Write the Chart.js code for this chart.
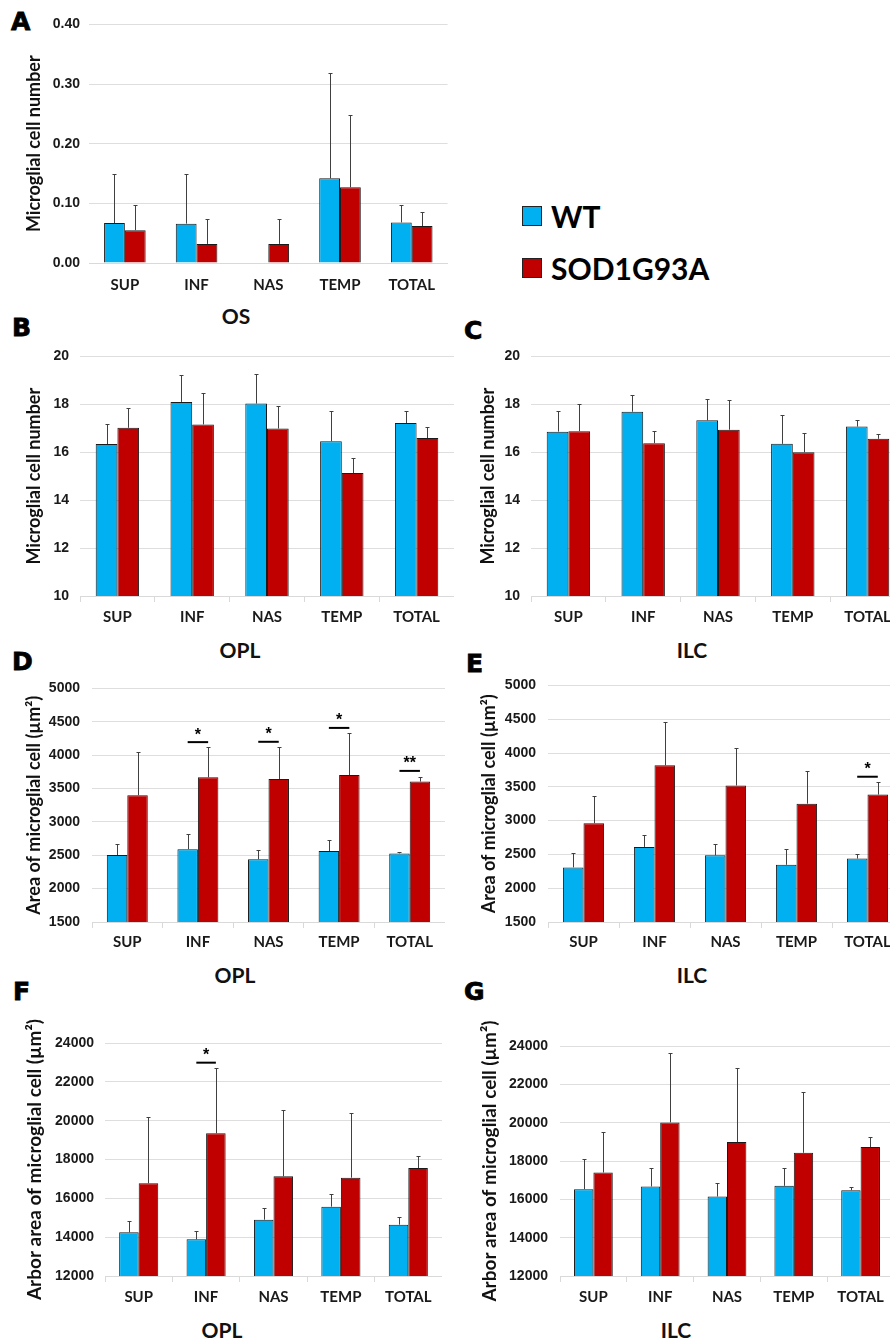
<!DOCTYPE html>
<html>
<head>
<meta charset="utf-8">
<script src="https://cdn.jsdelivr.net/npm/chart.js@4.4.1/dist/chart.umd.min.js"></script>
<style>
  body { margin: 0; width: 890px; height: 1339px; overflow: hidden; position: relative; background: #fff; }
  canvas { position: absolute; }
  .letter { position: absolute; font: bold 25px "DejaVu Sans"; line-height: 24px; color: #000; -webkit-text-stroke: 0.8px #000; }
  .xtitle { position: absolute; font: bold 21px Lato; line-height: 20px; color: #111; transform: translate(-50%, -50%); white-space: nowrap; }
  .key { position: absolute; left: 522px; width: 18px; height: 18px; border: 1.5px solid #222; }
  .keytxt { position: absolute; left: 551px; font: bold 30px Lato; line-height: 30px; color: #000; transform: translateY(-50%); }
</style>
</head>
<body>
<div class="letter" style="left:11px;top:10px">A</div>
<div class="letter" style="left:12px;top:316px">B</div>
<div class="letter" style="left:464px;top:319px">C</div>
<div class="letter" style="left:12px;top:650px">D</div>
<div class="letter" style="left:466px;top:652px">E</div>
<div class="letter" style="left:13px;top:980px">F</div>
<div class="letter" style="left:464px;top:980px">G</div>

<div class="xtitle" style="left:236px;top:316px">OS</div>
<div class="xtitle" style="left:240px;top:650px">OPL</div>
<div class="xtitle" style="left:692px;top:650px">ILC</div>
<div class="xtitle" style="left:235px;top:975px">OPL</div>
<div class="xtitle" style="left:692px;top:975px">ILC</div>
<div class="xtitle" style="left:222px;top:1330px">OPL</div>
<div class="xtitle" style="left:676px;top:1330px">ILC</div>

<div class="key" style="top:206px;background:#00b0f0"></div>
<div class="keytxt" style="top:216px">WT</div>
<div class="key" style="top:258px;background:#c00000"></div>
<div class="keytxt" style="top:268px">SOD1G93A</div>

<script>
// categorias (regiões da retina)
const categories = ['SUP', 'INF', 'NAS', 'TEMP', 'TOTAL'];
const seriesNames = ['WT', 'SOD1G93A'];

// A - número de células, OS
const osNumWT = [0.067, 0.066, 0, 0.142, 0.068];
const osNumWTErr = [0.082, 0.083, 0, 0.176, 0.030];
const osNumSOD = [0.055, 0.032, 0.032, 0.127, 0.062];
const osNumSODErr = [0.043, 0.042, 0.042, 0.121, 0.023];

// B - número de células, OPL
const oplNumWT = [16.34, 18.10, 18.03, 16.46, 17.22];
const oplNumWTErr = [0.82, 1.12, 1.25, 1.28, 0.49];
const oplNumSOD = [17.02, 17.16, 16.99, 15.13, 16.59];
const oplNumSODErr = [0.83, 1.33, 0.93, 0.63, 0.46];

// C - número de células, ILC
const ilcNumWT = [16.86, 17.69, 17.33, 16.35, 17.07];
const ilcNumWTErr = [0.88, 0.69, 0.91, 1.20, 0.29];
const ilcNumSOD = [16.88, 16.38, 16.94, 16.00, 16.56];
const ilcNumSODErr = [1.15, 0.52, 1.22, 0.79, 0.22];

// D - área da célula, OPL
const oplAreaWT = [2503, 2591, 2440, 2562, 2528];
const oplAreaWTErr = [170, 223, 146, 160, 28];
const oplAreaSOD = [3400, 3667, 3643, 3701, 3604];
const oplAreaSODErr = [640, 460, 484, 630, 72];
const oplAreaSig = [null, 4195, 4200, 4408, 3764];
const oplAreaStars = ['', '*', '*', '*', '**'];

// E - área da célula, ILC
const ilcAreaWT = [2308, 2611, 2486, 2346, 2438];
const ilcAreaWTErr = [216, 177, 173, 231, 67];
const ilcAreaSOD = [2962, 3817, 3519, 3250, 3385];
const ilcAreaSODErr = [399, 635, 553, 486, 182];
const ilcAreaSig = [null, null, null, null, 3649];
const ilcAreaStars = ['', '', '', '', '*'];

// F - área da arborização, OPL
const oplArborWT = [14249, 13888, 14901, 15571, 14644];
const oplArborWTErr = [601, 412, 584, 652, 395];
const oplArborSOD = [16773, 19348, 17133, 17064, 17562];
const oplArborSODErr = [3399, 3347, 3434, 3348, 618];
const oplArborSig = [null, 22987, null, null, null];
const oplArborStars = ['', '*', '', '', ''];

// G - área da arborização, ILC
const ilcArborWT = [16530, 16669, 16146, 16704, 16477];
const ilcArborWTErr = [1585, 958, 697, 923, 157];
const ilcArborSOD = [17401, 20014, 18986, 18429, 18725];
const ilcArborSODErr = [2108, 3606, 3850, 3188, 522];

// eixos y: [min, max, passo]
const numTicksOS = [0, 0.4, 0.1];
const numTicks = [10, 20, 2];
const areaTicks = [1500, 5000, 500];
const arborTicks = [12000, 24000, 2000];

const titleNum = 'Microglial cell number';
const titleArea = 'Area of microglial cell (\u00b5m\u00b2)';
const titleArbor = 'Arbor area of microglial cell (\u00b5m\u00b2)';

// barras de erro + marcas de significância
const errorBars = {
  id: 'errorBars',
  afterDatasetsDraw(chart, args, opts) {
    const ctx = chart.ctx;
    const y = chart.scales.y;
    ctx.save();
    ctx.strokeStyle = '#404040';
    ctx.lineWidth = 1;
    chart.data.datasets.forEach((ds, di) => {
      chart.getDatasetMeta(di).data.forEach((bar, i) => {
        const e = ds.errors[i];
        if (!e) return;
        const top = Math.round(y.getPixelForValue(ds.data[i] + e)) + 0.5;
        const x = Math.round(bar.x) + 0.5;
        ctx.beginPath();
        ctx.moveTo(x, bar.y);
        ctx.lineTo(x, top);
        ctx.moveTo(x - 2, top);
        ctx.lineTo(x + 2, top);
        ctx.stroke();
      });
    });
    const sig = opts.sig || [];
    const m0 = chart.getDatasetMeta(0).data, m1 = chart.getDatasetMeta(1).data;
    sig.forEach((v, i) => {
      if (v == null) return;
      const yy = y.getPixelForValue(v);
      ctx.strokeStyle = '#000';
      ctx.lineWidth = 2;
      ctx.beginPath();
      ctx.moveTo(m0[i].x, yy);
      ctx.lineTo(m1[i].x, yy);
      ctx.stroke();
      ctx.fillStyle = '#000';
      ctx.font = 'bold 16px "Liberation Sans"';
      ctx.textAlign = 'center';
      ctx.textBaseline = 'middle';
      ctx.fillText(opts.stars[i], (m0[i].x + m1[i].x) / 2, yy - 7);
    });
    ctx.restore();
  }
};

function panel(box, wt, wtErr, sod, sodErr, ticks, yTitle, titleSize, sig, stars) {
  const padTop = box.padTop || 14, xh = 42;
  const left = Math.round(box.titleX - titleSize * 0.6);
  const top = box.T - padTop;
  const yw = box.L - left;
  const cv = document.createElement('canvas');
  cv.width = box.R - left;
  cv.height = box.B + xh - top;
  cv.style.left = left + 'px';
  cv.style.top = top + 'px';
  document.body.appendChild(cv);

  new Chart(cv, {
    type: 'bar',
    data: {
      labels: categories,
      datasets: [
        { label: seriesNames[0], data: wt, errors: wtErr, backgroundColor: '#00b0f0' },
        { label: seriesNames[1], data: sod, errors: sodErr, backgroundColor: '#c00000' }
      ]
    },
    options: {
      responsive: false,
      animation: false,
      devicePixelRatio: 1,
      layout: { padding: { top: padTop, left: 0, right: 0, bottom: 0 } },
      datasets: {
        bar: { categoryPercentage: 0.58, barPercentage: 1, borderWidth: 1, borderColor: '#1a1a1a' }
      },
      plugins: {
        legend: { display: false },
        tooltip: { enabled: false },
        errorBars: { sig: sig, stars: stars }
      },
      scales: {
        x: {
          ticks: { font: { family: 'Lato', size: 15, weight: 'bold' }, color: '#1a1a1a', padding: box.xPad },
          grid: { drawOnChartArea: false, drawTicks: box.xTicks, tickLength: 6, color: '#d9d9d9' },
          border: { color: '#d9d9d9' },
          afterFit(s) { s.height = xh; }
        },
        y: {
          min: ticks[0],
          max: ticks[1],
          ticks: {
            stepSize: ticks[2],
            padding: box.tickPad,
            font: { family: 'Liberation Sans', size: 14, weight: 'bold' },
            color: '#1a1a1a',
            callback: v => ticks[2] < 1 ? v.toFixed(2) : v
          },
          grid: { color: '#dedede', drawTicks: false },
          border: { display: false },
          title: { display: true, text: yTitle, font: { family: 'Lato', size: titleSize, weight: 'bold' }, color: '#111', padding: 0 },
          afterFit(s) { s.width = yw; }
        }
      }
    },
    plugins: [errorBars]
  });
}

document.addEventListener('DOMContentLoaded', () => {
  panel({ L: 89, R: 448, T: 21, B: 263, titleX: 34, tickPad: 9, xPad: 13, xTicks: false },
    osNumWT, osNumWTErr, osNumSOD, osNumSODErr, numTicksOS, titleNum, 18);
  panel({ L: 80, R: 454, T: 351, B: 596, titleX: 34, tickPad: 11, xPad: 6, xTicks: true },
    oplNumWT, oplNumWTErr, oplNumSOD, oplNumSODErr, numTicks, titleNum, 18);
  panel({ L: 531, R: 905, T: 351, B: 596, titleX: 488, tickPad: 11, xPad: 6, xTicks: true },
    ilcNumWT, ilcNumWTErr, ilcNumSOD, ilcNumSODErr, numTicks, titleNum, 18);
  panel({ L: 92, R: 445, T: 682, B: 922, titleX: 34, tickPad: 12, xPad: 5, xTicks: true },
    oplAreaWT, oplAreaWTErr, oplAreaSOD, oplAreaSODErr, areaTicks, titleArea, 18, oplAreaSig, oplAreaStars);
  panel({ L: 548, R: 903, T: 679, B: 922, titleX: 489, tickPad: 12, xPad: 5, xTicks: true },
    ilcAreaWT, ilcAreaWTErr, ilcAreaSOD, ilcAreaSODErr, areaTicks, titleArea, 18, ilcAreaSig, ilcAreaStars);
  panel({ L: 105, R: 442, T: 1043, B: 1276, titleX: 34, tickPad: 11, xPad: 6, xTicks: true, padTop: 40 },
    oplArborWT, oplArborWTErr, oplArborSOD, oplArborSODErr, arborTicks, titleArbor, 19, oplArborSig, oplArborStars);
  panel({ L: 560, R: 894, T: 1046, B: 1276, titleX: 489, tickPad: 12, xPad: 6, xTicks: true, padTop: 40 },
    ilcArborWT, ilcArborWTErr, ilcArborSOD, ilcArborSODErr, arborTicks, titleArbor, 19);
});
</script>
</body>
</html>
